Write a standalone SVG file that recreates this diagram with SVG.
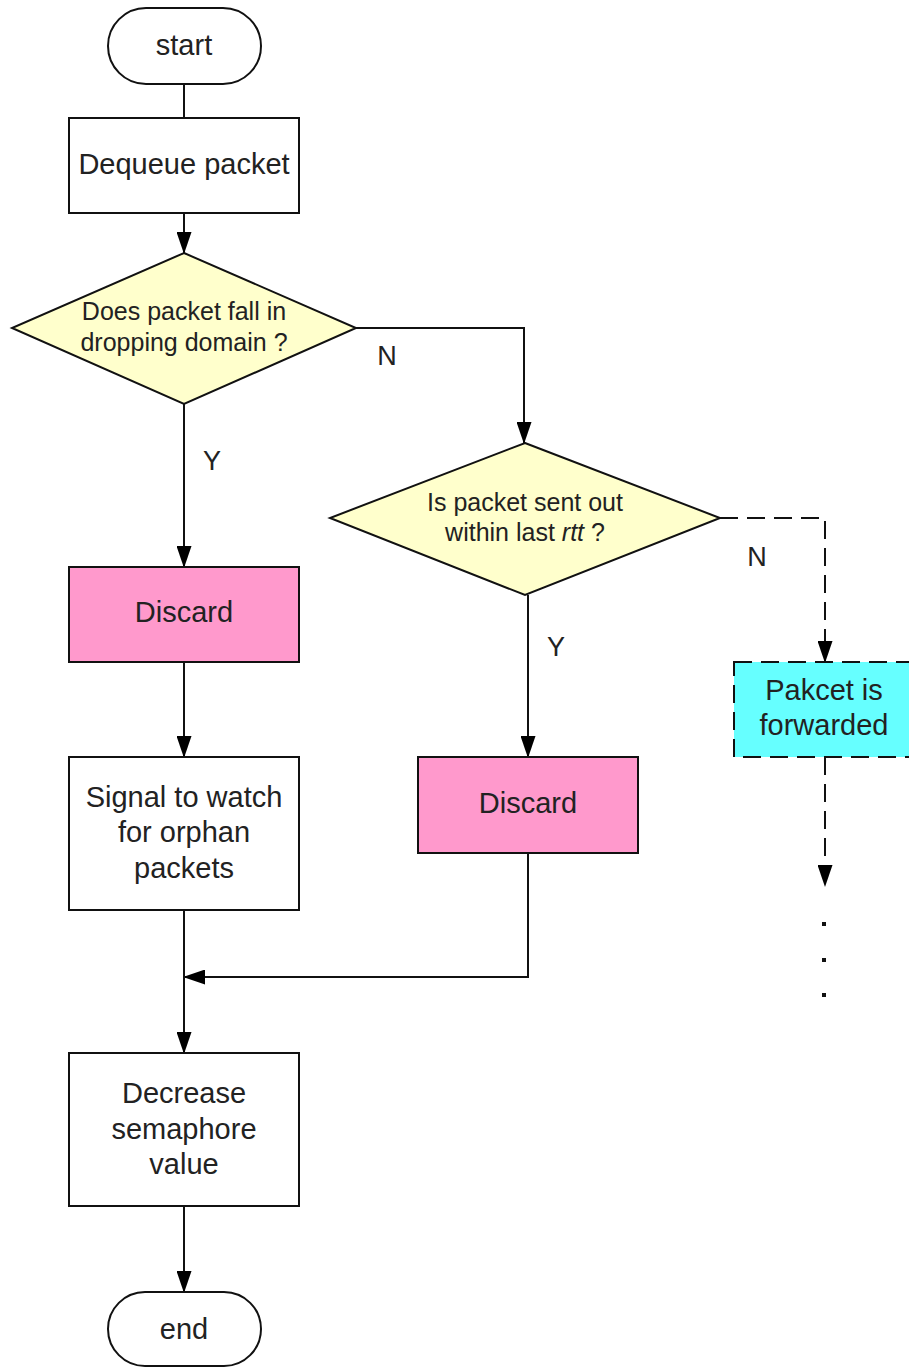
<svg xmlns="http://www.w3.org/2000/svg" width="909" height="1368" viewBox="0 0 909 1368">
  <defs>
    <marker id="arrow" markerWidth="22" markerHeight="15" refX="21" refY="7.5" viewBox="0 0 22 15" markerUnits="userSpaceOnUse" orient="auto">
      <path d="M0,0 L22,7.5 L0,15 Z" fill="#000"/>
    </marker>
    <style>
      .box { stroke: #111; stroke-width: 2; }
      .plain { fill: #fff; }
      .decision { fill: #ffffcc; }
      .discard { fill: #ff99cc; }
      .fwd { fill: #66ffff; stroke-dasharray: 18 9; }
      .lbl { font-family: "Liberation Sans", Arial, sans-serif; font-size: 29px; fill: #222; text-anchor: middle; }
      .q { font-size: 25px; }
      .edge { fill: none; stroke: #111; stroke-width: 2; }
      .dash { stroke-dasharray: 18 9; }
    </style>
  </defs>
  <rect width="909" height="1368" fill="#fff"/>

  <!-- connectors -->
  <g id="connectors">
    <line class="edge" x1="184" y1="84" x2="184" y2="118"/>
    <line class="edge" x1="184" y1="213" x2="184" y2="253" marker-end="url(#arrow)"/>
    <polyline class="edge" points="356,328 524,328 524,443" marker-end="url(#arrow)"/>
    <line class="edge" x1="184" y1="404" x2="184" y2="567" marker-end="url(#arrow)"/>
    <line class="edge" x1="184" y1="662" x2="184" y2="757" marker-end="url(#arrow)"/>
    <line class="edge" x1="528" y1="595" x2="528" y2="757" marker-end="url(#arrow)"/>
    <polyline class="edge dash" points="720,518 825,518 825,662" marker-end="url(#arrow)"/>
    <line class="edge dash" x1="825" y1="757" x2="825" y2="886" marker-end="url(#arrow)"/>
    <polyline class="edge" points="528,853 528,977 184,977" marker-end="url(#arrow)"/>
    <line class="edge" x1="184" y1="910" x2="184" y2="1053" marker-end="url(#arrow)"/>
    <line class="edge" x1="184" y1="1206" x2="184" y2="1292" marker-end="url(#arrow)"/>
    <g fill="#111">
      <rect x="822" y="922" width="4" height="4"/>
      <rect x="822" y="958" width="4" height="4"/>
      <rect x="822" y="993" width="4" height="4"/>
    </g>
    <text class="lbl" x="387" y="365" style="font-size:27px">N</text>
    <text class="lbl" x="212" y="470" style="font-size:27px">Y</text>
    <text class="lbl" x="757" y="566" style="font-size:27px">N</text>
    <text class="lbl" x="556" y="656" style="font-size:27px">Y</text>
  </g>

  <g id="start">
    <rect class="box plain" x="108" y="8" width="153" height="76" rx="38" ry="38"/>
    <text class="lbl" x="184" y="55">start</text>
  </g>

  <g id="dequeue">
    <rect class="box plain" x="69" y="118" width="230" height="95"/>
    <text class="lbl" x="184" y="174">Dequeue packet</text>
  </g>

  <g id="in-domain">
    <polygon class="box decision" points="184,253 356,328 184,404 12,328"/>
    <text class="lbl q" x="184" y="320">Does packet fall in</text>
    <text class="lbl q" x="184" y="351">dropping domain ?</text>
  </g>

  <g id="sent-recently">
    <polygon class="box decision" points="525,443 720,518 525,595 330,518"/>
    <text class="lbl q" x="525" y="511">Is packet sent out</text>
    <text class="lbl q" x="525" y="541">within last <tspan font-style="italic">rtt</tspan> ?</text>
  </g>

  <g id="discard-1">
    <rect class="box discard" x="69" y="567" width="230" height="95"/>
    <text class="lbl" x="184" y="622">Discard</text>
  </g>

  <g id="discard-2">
    <rect class="box discard" x="418" y="757" width="220" height="96"/>
    <text class="lbl" x="528" y="813">Discard</text>
  </g>

  <g id="forwarded">
    <rect class="box fwd" x="734" y="662" width="182" height="95"/>
    <text class="lbl" x="824" y="700">Pakcet is</text>
    <text class="lbl" x="824" y="735">forwarded</text>
  </g>

  <g id="signal-orphans">
    <rect class="box plain" x="69" y="757" width="230" height="153"/>
    <text class="lbl" x="184" y="807">Signal to watch</text>
    <text class="lbl" x="184" y="842">for orphan</text>
    <text class="lbl" x="184" y="878">packets</text>
  </g>

  <g id="decrease-semaphore">
    <rect class="box plain" x="69" y="1053" width="230" height="153"/>
    <text class="lbl" x="184" y="1103">Decrease</text>
    <text class="lbl" x="184" y="1139">semaphore</text>
    <text class="lbl" x="184" y="1174">value</text>
  </g>

  <g id="end">
    <rect class="box plain" x="108" y="1292" width="153" height="74" rx="37" ry="37"/>
    <text class="lbl" x="184" y="1339">end</text>
  </g>
</svg>
